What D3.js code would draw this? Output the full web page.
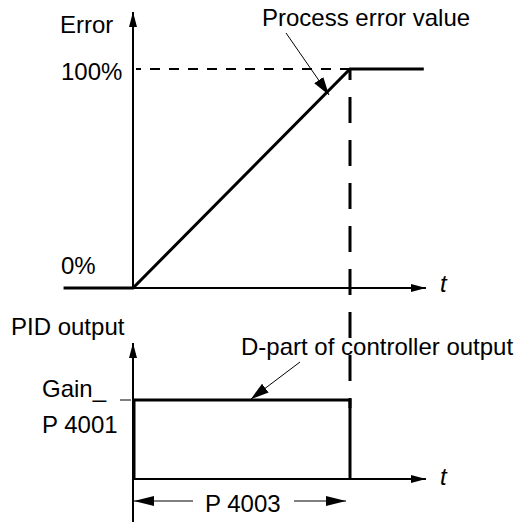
<!DOCTYPE html>
<html>
<head>
<meta charset="utf-8">
<script src="https://cdn.jsdelivr.net/npm/d3@7"></script>
<style>
html,body{margin:0;padding:0;background:#fff;}
svg{display:block;}
text{font-family:"Liberation Sans",Arial,Helvetica,sans-serif;fill:#000;}
</style>
</head>
<body>
<svg id="chart" width="519" height="522"></svg>
<script>
// ---- data ----
const errorTime   = [-0.32, 0, 1, 1.34];
const errorValue  = [0, 0, 100, 100];
const outputTime  = [0, 0, 1, 1];
const outputValue = [0, 1, 1, 0];
const timeAxisEnd = 1.35;
const errorLevels = [0, 100];
const errorLabels = ["0%", "100%"];
const yTitles     = ["Error", "PID output"];
const gainLabels  = ["Gain_", "P 4001"];
const durationLabel = "P 4003";
const annotations = ["Process error value", "D-part of controller output"];

const W = 519, H = 522, FS = 24;
const svg = d3.select("#chart");

// scales
const x = d3.scaleLinear().domain([0, 1]).range([133, 350]);
const yErr = d3.scaleLinear().domain([0, 100]).range([288, 69]);
const yOut = d3.scaleLinear().domain([0, 1]).range([479, 400]);

const defs = svg.append("defs");
function marker(id, w, h) {
  defs.append("marker").attr("id", id)
    .attr("viewBox", `0 0 ${w} ${h}`).attr("refX", w).attr("refY", h/2)
    .attr("markerWidth", w).attr("markerHeight", h)
    .attr("markerUnits", "userSpaceOnUse").attr("orient", "auto")
    .append("path").attr("d", `M0,0L${w},${h/2}L0,${h}Z`).attr("fill", "#000");
}
marker("axArrow", 15, 8);
marker("dimArrow", 20, 10);
marker("annArrow", 18, 11);

const x0 = x(0);

// ---------- top chart ----------
svg.append("line").attr("x1", x0).attr("x2", x0).attr("y1", yErr(0)).attr("y2", 12)
  .attr("stroke", "#000").attr("stroke-width", 2).attr("marker-end", "url(#axArrow)");
svg.append("line").attr("x1", x0).attr("x2", x(timeAxisEnd)).attr("y1", yErr(0)).attr("y2", yErr(0))
  .attr("stroke", "#000").attr("stroke-width", 2).attr("marker-end", "url(#axArrow)");
svg.append("line").attr("x1", x0 + 3).attr("x2", x(1)).attr("y1", yErr(100)).attr("y2", yErr(100))
  .attr("stroke", "#000").attr("stroke-width", 2).attr("stroke-dasharray", "10,9")
  .attr("stroke-dashoffset", 5);
const errLine = d3.line().x((d, i) => x(errorTime[i])).y((d, i) => yErr(errorValue[i]));
svg.append("path").attr("d", errLine(errorTime)).attr("fill", "none")
  .attr("stroke", "#000").attr("stroke-width", 3).attr("stroke-linejoin", "miter");

svg.append("text").attr("x", 60).attr("y", 33).attr("font-size", FS).text(yTitles[0]);
errorLevels.forEach((v, i) => {
  svg.append("text").attr("x", 61).attr("y", yErr(v) + 11 - (i === 0 ? 25 : 0))
    .attr("font-size", FS).text(errorLabels[i]);
});
svg.append("text").attr("x", 440).attr("y", 292).attr("font-size", FS)
  .attr("font-style", "italic").text("t");

svg.append("line").attr("x1", x(1)).attr("x2", x(1)).attr("y1", yErr(100) + 1).attr("y2", yOut(1) + 8)
  .attr("stroke", "#000").attr("stroke-width", 3).attr("stroke-dasharray", "26,17")
  .attr("stroke-dashoffset", 16);

svg.append("text").attr("x", 262).attr("y", 26).attr("font-size", FS).text(annotations[0]);
svg.append("line").attr("x1", 286).attr("y1", 33).attr("x2", 329).attr("y2", 95)
  .attr("stroke", "#000").attr("stroke-width", 1).attr("marker-end", "url(#annArrow)");

// ---------- bottom chart ----------
svg.append("line").attr("x1", x0).attr("x2", x0).attr("y1", H).attr("y2", 343)
  .attr("stroke", "#000").attr("stroke-width", 2).attr("marker-end", "url(#axArrow)");
svg.append("line").attr("x1", x0).attr("x2", x(timeAxisEnd)).attr("y1", yOut(0)).attr("y2", yOut(0))
  .attr("stroke", "#000").attr("stroke-width", 2).attr("marker-end", "url(#axArrow)");
svg.append("text").attr("x", 440).attr("y", 485).attr("font-size", FS)
  .attr("font-style", "italic").text("t");
svg.append("text").attr("x", 11).attr("y", 335).attr("font-size", FS).text(yTitles[1]);

const outLine = d3.line().x((d, i) => x(outputTime[i]) + (i < 2 ? 1 : 0)).y((d, i) => yOut(outputValue[i]));
svg.append("path").attr("d", outLine(outputTime)).attr("fill", "none")
  .attr("stroke", "#000").attr("stroke-width", 3).attr("stroke-linejoin", "miter");

svg.append("line").attr("x1", 120).attr("x2", 131).attr("y1", yOut(1)).attr("y2", yOut(1))
  .attr("stroke", "#000").attr("stroke-width", 1);
svg.append("text").attr("x", 42).attr("y", 397).attr("font-size", FS).text(gainLabels[0]);
svg.append("text").attr("x", 42).attr("y", 433).attr("font-size", FS).text(gainLabels[1]);

const dimY = 501;
svg.append("line").attr("x1", 193).attr("x2", x(0) + 1).attr("y1", dimY).attr("y2", dimY)
  .attr("stroke", "#000").attr("stroke-width", 1).attr("marker-end", "url(#dimArrow)");
svg.append("line").attr("x1", 294).attr("x2", x(1) - 4).attr("y1", dimY).attr("y2", dimY)
  .attr("stroke", "#000").attr("stroke-width", 1).attr("marker-end", "url(#dimArrow)");
svg.append("text").attr("x", 205).attr("y", 512).attr("font-size", FS).text(durationLabel);

svg.append("text").attr("x", 241).attr("y", 355).attr("font-size", FS).text(annotations[1]);
svg.append("line").attr("x1", 300).attr("y1", 362).attr("x2", 251).attr("y2", 399)
  .attr("stroke", "#000").attr("stroke-width", 1).attr("marker-end", "url(#annArrow)");
</script>
</body>
</html>
